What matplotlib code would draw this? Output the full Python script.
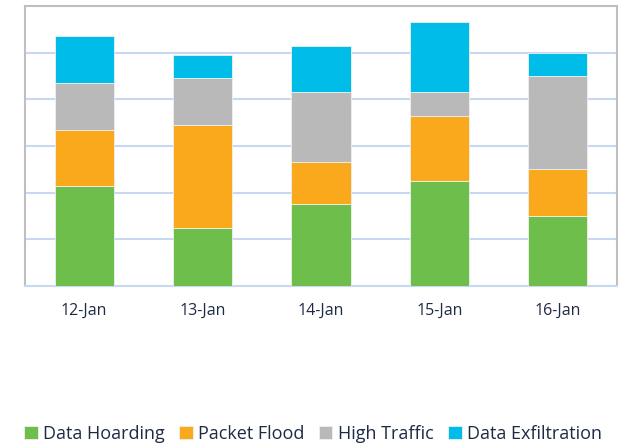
import matplotlib.pyplot as plt
import numpy as np

dates = ['12-Jan', '13-Jan', '14-Jan', '15-Jan', '16-Jan']
series = ['Data Hoarding', 'Packet Flood', 'High Traffic', 'Data Exfiltration']
hoarding = [2.15, 1.25, 1.75, 2.25, 1.5]
flood = [1.2, 2.2, 0.9, 1.4, 1.0]
traffic = [1.0, 1.0, 1.5, 0.5, 2.0]
exfil = [1.0, 0.5, 1.0, 1.5, 0.5]
colors = ['#6DBE4A', '#FAA81C', '#B9B9B9', '#00BCE8']

plt.rcParams['font.family'] = ['Open Sans', 'DejaVu Sans']
txt = '#1F2A44'

fig = plt.figure(figsize=(6.26, 4.46), dpi=100)
ax = fig.add_axes([25/626, 1-286/446, 592/626, 280/446])

x = np.arange(len(dates))
bottom = np.zeros(len(dates))
for vals, name, c in zip([hoarding, flood, traffic, exfil], series, colors):
    ax.bar(x, vals, 0.5, bottom=bottom, color=c, label=name,
           edgecolor='#F0F0F0', linewidth=0.6, zorder=3)
    bottom += np.array(vals)

ax.set_xlim(-0.5, 4.5)
ax.set_ylim(0, 6)
ax.set_yticks([1, 2, 3, 4, 5])
ax.grid(axis='y', color='#C9D8F2', linewidth=1.5, zorder=0)
ax.tick_params(axis='y', left=False, labelleft=False)
ax.tick_params(axis='x', length=0, pad=12, labelsize=11.5, labelcolor=txt)
ax.set_xticks(x)
ax.set_xticklabels(dates)
for s in ['left', 'top', 'right']:
    ax.spines[s].set_color('#BFBFBF')
    ax.spines[s].set_linewidth(1.5)
ax.spines['bottom'].set_color('#C9D8F2')
ax.spines['bottom'].set_linewidth(1.5)

fig.legend(loc='center', bbox_to_anchor=(0.5, 1-434/446), ncol=4, frameon=False,
           fontsize=13, labelcolor=txt, handlelength=0.75, handleheight=0.75,
           handletextpad=0.3, columnspacing=0.8)

fig.savefig('out.png', dpi=100)
